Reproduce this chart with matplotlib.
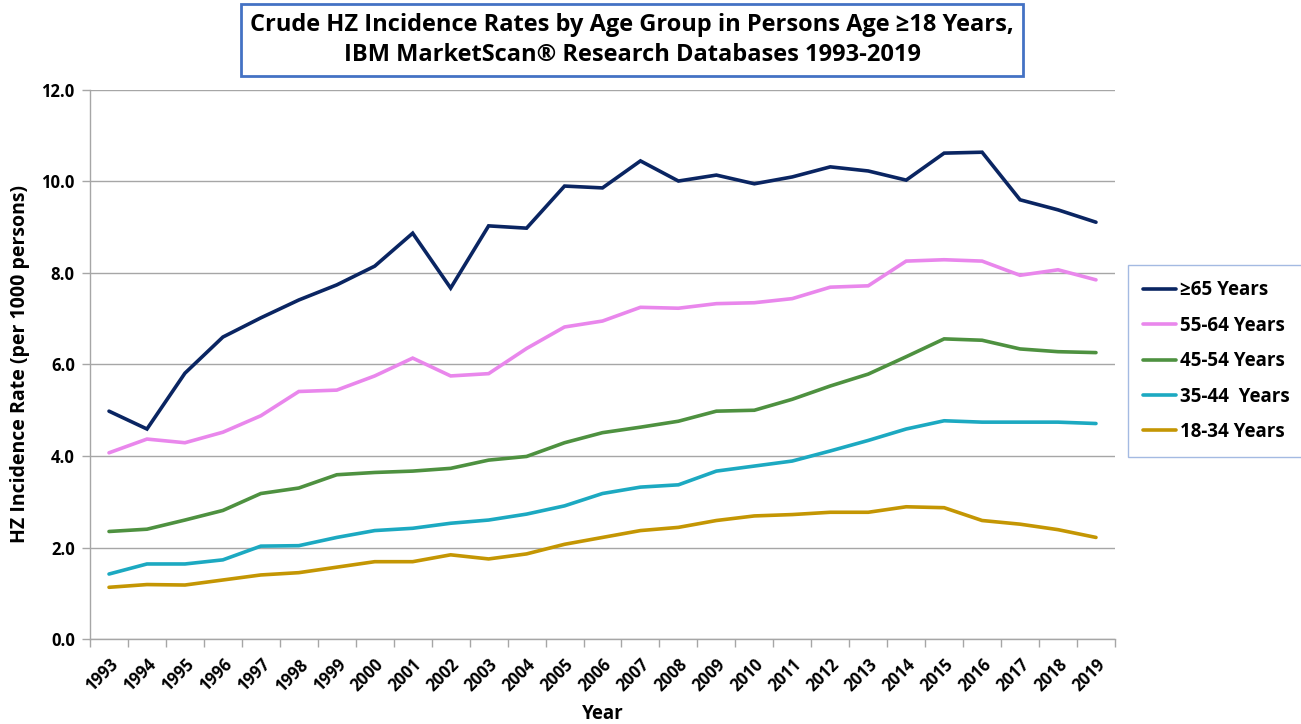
import numpy as np
import matplotlib
matplotlib.use("Agg")
import matplotlib.pyplot as plt

# ── Data ──────────────────────────────────────────────────────────────────────
years = list(range(1993, 2020))

age_65_plus = [4.98, 4.59, 5.81, 6.60, 7.02, 7.41, 7.74, 8.15, 8.87, 7.67,
               9.03, 8.98, 9.90, 9.86, 10.45, 10.01, 10.14, 9.95, 10.10, 10.32,
               10.23, 10.03, 10.62, 10.64, 9.60, 9.38, 9.11]
age_55_64 = [4.07, 4.37, 4.29, 4.52, 4.88, 5.41, 5.44, 5.75, 6.14, 5.75,
             5.80, 6.35, 6.82, 6.95, 7.25, 7.23, 7.33, 7.35, 7.44, 7.69,
             7.72, 8.26, 8.29, 8.26, 7.95, 8.07, 7.85]
age_45_54 = [2.35, 2.40, 2.60, 2.81, 3.18, 3.30, 3.59, 3.64, 3.67, 3.73,
             3.91, 3.99, 4.29, 4.51, 4.63, 4.76, 4.98, 5.00, 5.24, 5.53,
             5.79, 6.17, 6.56, 6.53, 6.34, 6.28, 6.26]
age_35_44 = [1.42, 1.64, 1.64, 1.73, 2.03, 2.04, 2.22, 2.37, 2.42, 2.53,
             2.60, 2.73, 2.91, 3.18, 3.32, 3.37, 3.67, 3.78, 3.89, 4.11,
             4.34, 4.59, 4.77, 4.74, 4.74, 4.74, 4.71]
age_18_34 = [1.13, 1.19, 1.18, 1.29, 1.40, 1.45, 1.57, 1.69, 1.69, 1.84,
             1.75, 1.86, 2.07, 2.22, 2.37, 2.44, 2.59, 2.69, 2.72, 2.77,
             2.77, 2.89, 2.87, 2.59, 2.51, 2.39, 2.22]

series_labels = ["\u226565 Years", "55-64 Years", "45-54 Years", "35-44  Years", "18-34 Years"]
series_values = [age_65_plus, age_55_64, age_45_54, age_35_44, age_18_34]
series_colors = ["#0A2562", "#E987EC", "#4E9140", "#1CA9C1", "#C49603"]

# ── Figure ────────────────────────────────────────────────────────────────────
plt.rcParams["font.family"] = ["Open Sans", "DejaVu Sans"]

fig = plt.figure(figsize=(13.01, 7.24), dpi=100)
ax = fig.add_axes([0.0692, 0.1174, 0.7878, 0.7583])

x = np.arange(len(years))
for label, vals, color in zip(series_labels, series_values, series_colors):
    ax.plot(x, vals, color=color, lw=2.6, label=label, solid_capstyle="round",
            solid_joinstyle="miter")

ax.set_xlim(-0.5, len(years) - 0.5)
ax.set_ylim(0, 12)
ax.set_yticks(np.arange(0, 12.1, 2.0))
ax.set_yticklabels([f"{v:.1f}" for v in np.arange(0, 12.1, 2.0)],
                   fontsize=12, fontweight="bold")
ax.yaxis.grid(True, color="#A6A6A6", lw=1.0)
ax.set_axisbelow(True)

# category axis: labels at centres, tick marks at boundaries
ax.set_xticks(x)
ax.set_xticklabels([str(y) for y in years], rotation=45, ha="right",
                   rotation_mode="anchor", fontsize=12, fontweight="bold")
ax.set_xticks(np.arange(-0.5, len(years), 1.0), minor=True)
ax.tick_params(axis="x", which="major", length=0, pad=12)
ax.tick_params(axis="x", which="minor", length=6, color="#A6A6A6", width=1)
ax.tick_params(axis="y", length=6, color="#A6A6A6", width=1, pad=5)

for side in ["top", "right"]:
    ax.spines[side].set_visible(False)
for side in ["left", "bottom"]:
    ax.spines[side].set_color("#A6A6A6")
    ax.spines[side].set_linewidth(1.0)

ax.set_ylabel("HZ Incidence Rate (per 1000 persons)", fontsize=14,
              fontweight="bold", labelpad=8)
ax.set_xlabel("Year", fontsize=13.5, fontweight="bold", labelpad=6)

# title in blue box
fig.text(0.486, 0.945,
         "Crude HZ Incidence Rates by Age Group in Persons Age \u226518 Years,\n"
         "IBM MarketScan\u00ae Research Databases 1993-2019",
         ha="center", va="center", fontsize=17, fontweight="bold",
         linespacing=1.35,
         bbox=dict(boxstyle="square,pad=0.38", fc="white", ec="#4472C4", lw=2))

leg = ax.legend(loc="center left", bbox_to_anchor=(1.0127, 0.506),
                borderaxespad=0, frameon=True, fancybox=False,
                prop={"weight": "bold", "size": 13.5},
                handlelength=1.75, handletextpad=0.25, labelspacing=0.82,
                borderpad=0.8)
leg.get_frame().set_edgecolor("#8EA9DB")
leg.get_frame().set_linewidth(1.0)

fig.savefig("out.png", dpi=100)
